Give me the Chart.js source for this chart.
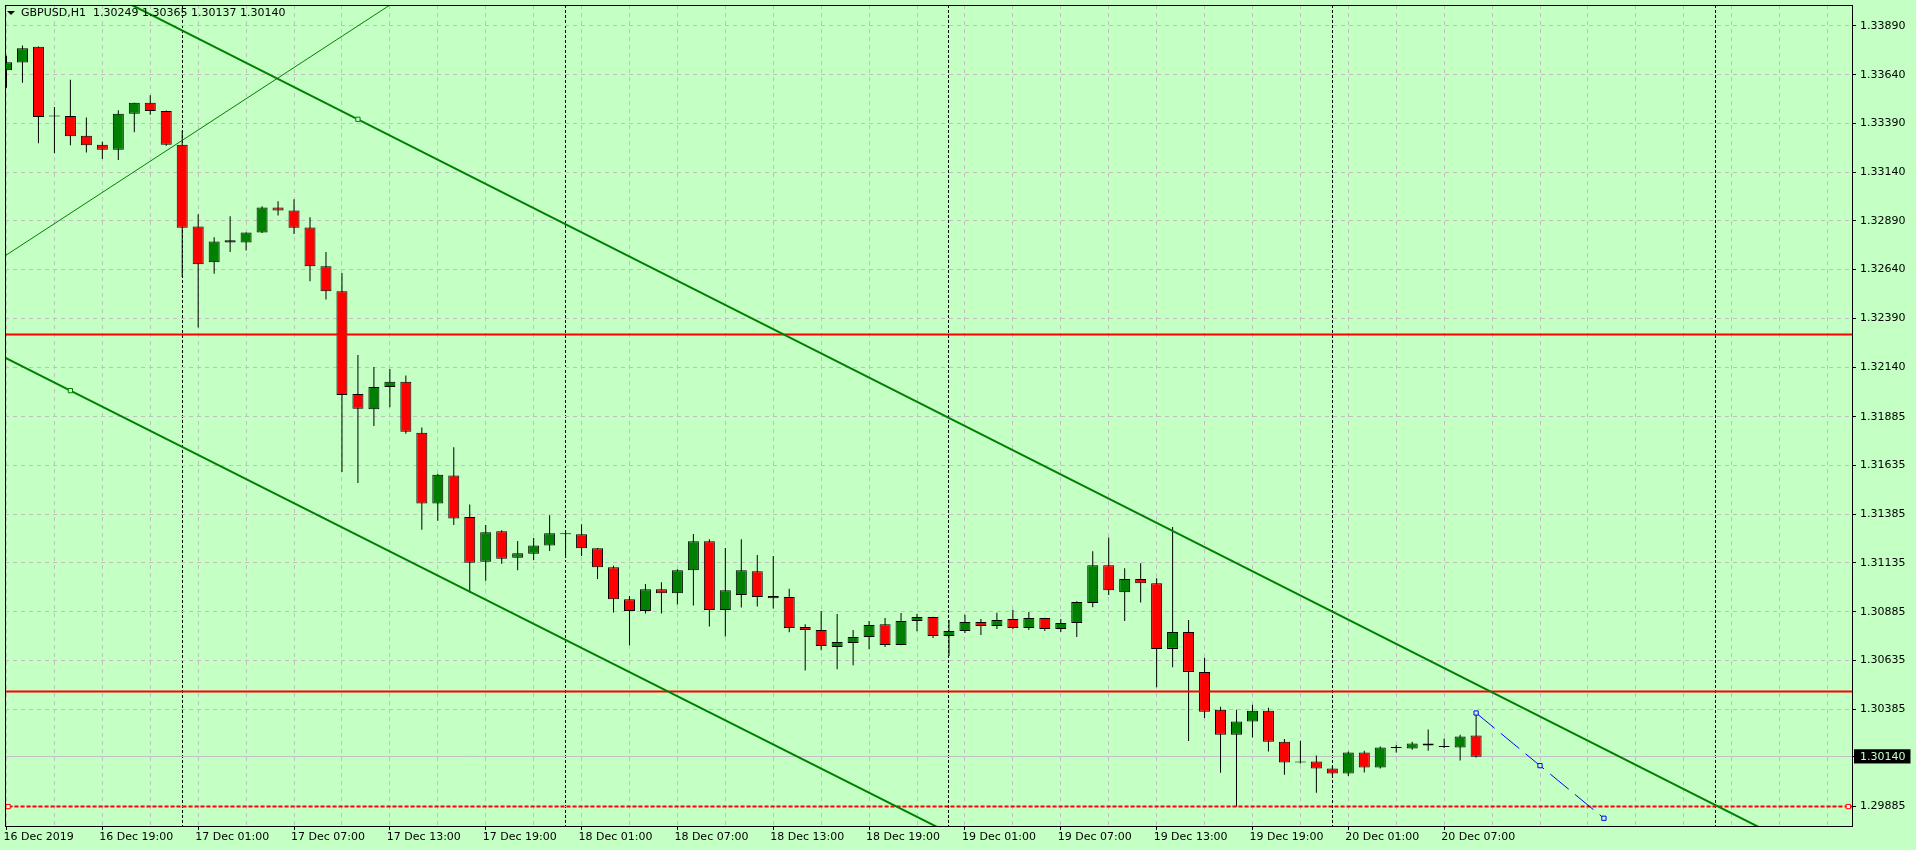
<!DOCTYPE html>
<html>
<head>
<meta charset="utf-8">
<title>GBPUSD,H1</title>
<script src="https://cdn.jsdelivr.net/npm/chart.js@4.4.0/dist/chart.umd.min.js"></script>
<style>
  html, body { margin: 0; padding: 0; background: #c4ffc4; overflow: hidden; }
  #wrap { width: 1916px; height: 850px; }
</style>
</head>
<body>
<div id="wrap"><canvas id="chart" width="1916" height="850"></canvas></div>
<script>
// GBPUSD H1 bars, 16 Dec 2019 13:00 .. 20 Dec 2019 09:00 (bar index 0..92)
const symbol = 'GBPUSD';
const period = 'H1';

const openPrices = [
  1.33662, 1.33702, 1.33783, 1.33425, 1.33428, 1.33326, 1.33280, 1.33255, 1.33439, 1.33496,
  1.33454, 1.33280, 1.32861, 1.32677, 1.32791, 1.32779, 1.32830, 1.32958, 1.32943, 1.32856,
  1.32657, 1.32529, 1.32002, 1.31924, 1.32038, 1.32064, 1.31803, 1.31440, 1.31583, 1.31370,
  1.31141, 1.31297, 1.31162, 1.31182, 1.31225, 1.31282, 1.31282, 1.31210, 1.31113, 1.30949,
  1.30888, 1.31000, 1.30980, 1.31098, 1.31246, 1.30893, 1.30970, 1.31092, 1.30954, 1.30960,
  1.30806, 1.30791, 1.30704, 1.30724, 1.30755, 1.30821, 1.30714, 1.30837, 1.30857, 1.30760,
  1.30786, 1.30832, 1.30811, 1.30847, 1.30801, 1.30852, 1.30796, 1.30827, 1.30929, 1.31123,
  1.30985, 1.31052, 1.31031, 1.30694, 1.30781, 1.30576, 1.30382, 1.30254, 1.30321, 1.30377,
  1.30218, 1.30111, 1.30116, 1.30080, 1.30055, 1.30162, 1.30085, 1.30186, 1.30183, 1.30208,
  1.30191, 1.30188, 1.30249
];
const highPrices = [
  1.33737, 1.33789, 1.33785, 1.33474, 1.33614, 1.33420, 1.33296, 1.33457, 1.33496, 1.33534,
  1.33456, 1.33352, 1.32924, 1.32806, 1.32914, 1.32830, 1.32965, 1.32990, 1.33001, 1.32909,
  1.32730, 1.32622, 1.32202, 1.32140, 1.32130, 1.32096, 1.31830, 1.31593, 1.31728, 1.31435,
  1.31329, 1.31303, 1.31247, 1.31263, 1.31380, 1.31303, 1.31334, 1.31212, 1.31120, 1.30965,
  1.31027, 1.31036, 1.31103, 1.31283, 1.31256, 1.31212, 1.31257, 1.31176, 1.31171, 1.31002,
  1.30821, 1.30888, 1.30873, 1.30791, 1.30837, 1.30852, 1.30878, 1.30873, 1.30859, 1.30842,
  1.30869, 1.30847, 1.30879, 1.30895, 1.30883, 1.30854, 1.30847, 1.30939, 1.31195, 1.31266,
  1.31108, 1.31133, 1.31057, 1.31319, 1.30842, 1.30649, 1.30397, 1.30382, 1.30407, 1.30392,
  1.30232, 1.30223, 1.30147, 1.30092, 1.30167, 1.30172, 1.30193, 1.30201, 1.30218, 1.30280,
  1.30234, 1.30254, 1.30365
];
const lowPrices = [
  1.33573, 1.33599, 1.33288, 1.33237, 1.33278, 1.33241, 1.33207, 1.33202, 1.33345, 1.33434,
  1.33275, 1.32602, 1.32343, 1.32619, 1.32730, 1.32738, 1.32828, 1.32917, 1.32823, 1.32580,
  1.32486, 1.31602, 1.31545, 1.31837, 1.31934, 1.31798, 1.31305, 1.31351, 1.31329, 1.30983,
  1.31043, 1.31131, 1.31098, 1.31150, 1.31196, 1.31162, 1.31171, 1.31052, 1.30881, 1.30712,
  1.30876, 1.30876, 1.30922, 1.30917, 1.30809, 1.30758, 1.30906, 1.30911, 1.30901, 1.30779,
  1.30583, 1.30687, 1.30589, 1.30610, 1.30692, 1.30704, 1.30712, 1.30784, 1.30750, 1.30658,
  1.30775, 1.30765, 1.30796, 1.30796, 1.30791, 1.30786, 1.30781, 1.30755, 1.30908, 1.30970,
  1.30837, 1.30932, 1.30497, 1.30600, 1.30221, 1.30339, 1.30058, 1.29886, 1.30239, 1.30167,
  1.30048, 1.30106, 1.29956, 1.30046, 1.30042, 1.30060, 1.30080, 1.30162, 1.30177, 1.30172,
  1.30186, 1.30121, 1.30137
];
const closePrices = [
  1.33704, 1.33776, 1.33423, 1.33425, 1.33324, 1.33278, 1.33255, 1.33439, 1.33496, 1.33454,
  1.33280, 1.32854, 1.32667, 1.32784, 1.32779, 1.32830, 1.32958, 1.32943, 1.32854, 1.32657,
  1.32529, 1.31997, 1.31926, 1.32038, 1.32064, 1.31808, 1.31440, 1.31588, 1.31363, 1.31136,
  1.31292, 1.31157, 1.31184, 1.31225, 1.31287, 1.31282, 1.31210, 1.31113, 1.30949, 1.30888,
  1.31000, 1.30980, 1.31098, 1.31246, 1.30893, 1.30995, 1.31098, 1.30960, 1.30965, 1.30801,
  1.30791, 1.30709, 1.30729, 1.30755, 1.30816, 1.30714, 1.30837, 1.30857, 1.30760, 1.30786,
  1.30832, 1.30811, 1.30842, 1.30801, 1.30852, 1.30796, 1.30827, 1.30934, 1.31123, 1.30995,
  1.31052, 1.31031, 1.30694, 1.30781, 1.30576, 1.30372, 1.30254, 1.30321, 1.30377, 1.30218,
  1.30111, 1.30111, 1.30080, 1.30055, 1.30162, 1.30085, 1.30188, 1.30186, 1.30208, 1.30198,
  1.30191, 1.30244, 1.30140
];

// Time axis labels (bar index -> text)
const timeLabelBars = [0, 6, 12, 18, 24, 30, 36, 42, 48, 54, 60, 66, 72, 78, 84, 90];
const timeLabels = [
  '16 Dec 2019', '16 Dec 19:00', '17 Dec 01:00', '17 Dec 07:00', '17 Dec 13:00', '17 Dec 19:00',
  '18 Dec 01:00', '18 Dec 07:00', '18 Dec 13:00', '18 Dec 19:00', '19 Dec 01:00', '19 Dec 07:00',
  '19 Dec 13:00', '19 Dec 19:00', '20 Dec 01:00', '20 Dec 07:00'
];
// Day separators (00:00 bars, incl. the future one)
const daySeparatorBars = [11, 35, 59, 83, 107];

// Price axis labels
const priceTicks = [
  1.33890, 1.33640, 1.33390, 1.33140, 1.32890, 1.32640, 1.32390, 1.32140, 1.31885,
  1.31635, 1.31385, 1.31135, 1.30885, 1.30635, 1.30385, 1.30140, 1.29885
];
const bidPrice = 1.30140;

// Chart objects: [bar index, price] anchors
const redLevels = [1.32307, 1.30475];
const supportLevel = 1.29885;
const thinTrend = [[-1, 1.32662], [26, 1.34104]];
const upperChannel = [[-10, 1.34736], [22, 1.33411], [116, 1.29519]];
const lowerChannel = [[-2, 1.32267], [4, 1.32019], [62, 1.29626]];
const blueProjection = [[92, 1.30365], [96, 1.30095], [100, 1.29825]];

const BG = '#c4ffc4';
const BULL = '#008000';
const BEAR = '#ff0000';
const GRID = '#c0c0c0';

// bar i sits at x = 3.5 + 16 * i, plot from x = 2 to 1852
const X_MIN = -1.5 / 16;
const X_MAX = 1848.5 / 16;
// price scale: 19563 px per 1.0, 1.33890 at y = 23, plot from y = 2 to 826
const Y_MAX = 1.33890 + 21 / 19563;
const Y_MIN = 1.29885 - 19.5 / 19563;

const gridBars = [];
for (let i = 0; i <= 114; i += 3) gridBars.push(i);
const xTicks = gridBars.concat(daySeparatorBars).sort((a, b) => a - b);

const toPoints = arr => arr.map(p => ({ x: p[0], y: p[1] }));

const frame = {
  id: 'frame',
  afterDatasetsDraw(chart) {
    const { ctx, chartArea: a } = chart;
    ctx.save();
    ctx.strokeStyle = '#000';
    ctx.lineWidth = 1;
    ctx.strokeRect(a.left + 0.5, a.top + 0.5, a.right - a.left, a.bottom - a.top);
    ctx.restore();
  }
};

const header = {
  id: 'header',
  afterDraw(chart) {
    const ctx = chart.ctx;
    const n = closePrices.length - 1;
    const txt = symbol + ',' + period + '  ' + [openPrices[n], highPrices[n], lowPrices[n], closePrices[n]]
      .map(v => v.toFixed(5)).join(' ');
    ctx.save();
    ctx.fillStyle = '#000';
    ctx.beginPath();
    ctx.moveTo(7, 11); ctx.lineTo(15, 11); ctx.lineTo(11, 15); ctx.closePath();
    ctx.fill();
    ctx.font = '11px "DejaVu Sans"';
    ctx.textBaseline = 'middle';
    ctx.fillText(txt, 21, 13);
    ctx.restore();
  }
};

Chart.defaults.font.family = '"DejaVu Sans", sans-serif';
Chart.defaults.font.size = 11;
Chart.defaults.color = '#000';

new Chart(document.getElementById('chart'), {
  type: 'bar',
  data: {
    datasets: [
      {
        type: 'line', order: 1,
        data: toPoints(blueProjection),
        borderColor: '#0000ff', borderWidth: 1, borderDash: [24, 8],
        pointStyle: 'rect', pointRadius: 3, pointBorderColor: '#0000ff',
        pointBackgroundColor: BG, pointBorderWidth: 1
      },
      {
        type: 'line', order: 2,
        data: toPoints(upperChannel),
        borderColor: BULL, borderWidth: 2,
        pointStyle: 'rect', pointRadius: [0, 3, 0], pointBorderColor: BULL,
        pointBackgroundColor: BG, pointBorderWidth: 1
      },
      {
        type: 'line', order: 2,
        data: toPoints(lowerChannel),
        borderColor: BULL, borderWidth: 2,
        pointStyle: 'rect', pointRadius: [0, 3, 0], pointBorderColor: BULL,
        pointBackgroundColor: BG, pointBorderWidth: 1
      },
      {
        type: 'line', order: 2,
        data: toPoints(thinTrend),
        borderColor: BULL, borderWidth: 1, pointRadius: 0
      },
      ...redLevels.map(v => ({
        type: 'line', order: 3,
        data: [{ x: -1, y: v }, { x: 117, y: v }],
        borderColor: BEAR, borderWidth: 2, pointRadius: 0
      })),
      {
        type: 'line', order: 3,
        data: [{ x: -1, y: supportLevel }, { x: 0.1, y: supportLevel }, { x: 115.3, y: supportLevel }, { x: 117, y: supportLevel }],
        borderColor: BEAR, borderWidth: 2, borderDash: [4, 2],
        pointStyle: 'rect', pointRadius: [0, 3, 3, 0], pointBorderColor: BEAR,
        pointBackgroundColor: '#ffffff', pointBorderWidth: 1
      },
      {
        // candle bodies
        order: 5,
        data: openPrices.map((o, i) => ({ x: i, y: [o, closePrices[i]] })),
        backgroundColor: openPrices.map((o, i) => closePrices[i] >= o ? BULL : BEAR),
        borderColor: '#000', borderWidth: 1, borderSkipped: false,
        barThickness: 11, minBarLength: 1, grouped: false, inflateAmount: 0
      },
      {
        // wicks
        order: 6,
        data: highPrices.map((h, i) => ({ x: i, y: [lowPrices[i], h] })),
        backgroundColor: '#000', borderWidth: 0,
        barThickness: 1, grouped: false, inflateAmount: 0
      }
    ]
  },
  options: {
    responsive: false,
    devicePixelRatio: 1,
    animation: false,
    layout: { padding: { left: 2, top: 2, right: 0, bottom: 0 } },
    plugins: {
      legend: { display: false },
      tooltip: { enabled: false }
    },
    scales: {
      x: {
        type: 'linear',
        min: X_MIN,
        max: X_MAX,
        offset: false,
        afterBuildTicks: s => { s.ticks = xTicks.map(v => ({ value: v })); },
        afterFit: s => { s.height = 24; s.paddingLeft = 0; s.paddingRight = 0; },
        ticks: {
          autoSkip: false, maxRotation: 0, minRotation: 0,
          align: 'start', padding: 1, labelOffset: -3,
          callback: v => {
            const k = timeLabelBars.indexOf(v);
            return k >= 0 ? timeLabels[k] : '';
          }
        },
        grid: {
          offset: false,
          lineWidth: 1,
          tickLength: 4,
          color: c => (c.tick && daySeparatorBars.includes(c.tick.value)) ? '#000' : GRID,
          tickColor: c => (c.tick && timeLabelBars.includes(c.tick.value)) ? '#000' : 'rgba(0,0,0,0)'
        },
        border: {
          display: false,
          dash: c => (c.tick && daySeparatorBars.includes(c.tick.value)) ? [3, 2] : [4, 4]
        }
      },
      y: {
        type: 'linear',
        position: 'right',
        min: Y_MIN,
        max: Y_MAX,
        afterBuildTicks: s => { s.ticks = priceTicks.map(v => ({ value: v })); },
        afterFit: s => { s.width = 64; s.paddingTop = 0; s.paddingBottom = 0; },
        ticks: {
          padding: 4,
          callback: v => v.toFixed(5),
          color: c => (c.tick && c.tick.value === bidPrice) ? BG : '#000',
          showLabelBackdrop: c => !!(c.tick && c.tick.value === bidPrice),
          backdropColor: '#000',
          backdropPadding: { left: 6, right: 5, top: 1, bottom: 0 }
        },
        grid: {
          offset: false,
          lineWidth: 1,
          tickLength: 4,
          color: GRID,
          tickColor: '#000'
        },
        border: {
          display: false,
          dash: c => (c.tick && c.tick.value === bidPrice) ? [] : [4, 4]
        }
      }
    }
  },
  plugins: [frame, header]
});
</script>
</body>
</html>
